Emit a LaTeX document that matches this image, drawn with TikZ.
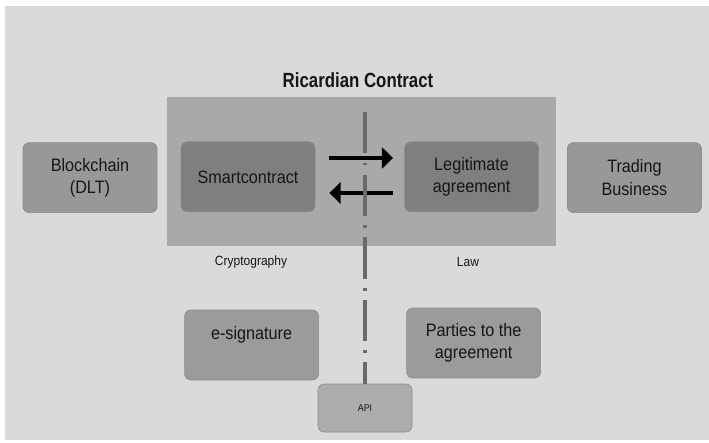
\documentclass[tikz,border=0pt]{standalone}
\usepackage{fontspec}
\setmainfont{Liberation Sans}[FakeStretch=0.9]
\newfontfamily\titlefont{Liberation Sans}[FakeStretch=0.82]
\usetikzlibrary{positioning, arrows.meta}

\definecolor{backdrop}{HTML}{DADADA}
\definecolor{panelgray}{HTML}{A9A9A9}
\definecolor{boxgray}{HTML}{989898}
\definecolor{boxdark}{HTML}{7F7F7F}
\definecolor{apigray}{HTML}{ADADAD}
\definecolor{linegray}{HTML}{6A6A6A}
\definecolor{ink}{HTML}{161616}

\begin{document}
\begin{tikzpicture}[
    box/.style={rectangle, draw=black!45, line width=0.5pt, rounded corners=4.5pt,
                minimum width=3.35cm, minimum height=1.75cm, fill=boxgray,
                text=ink, align=center, font=\fontsize{12.8}{16}\selectfont},
    darkbox/.style={box, fill=boxdark},
    side/.style={font=\fontsize{9.5}{11}\selectfont, text=ink},
    arrow/.style={-{Triangle[length=8pt, width=15pt]}, line width=2.8pt},
    divider/.style={line width=2.2pt, draw=linegray,
                    dash pattern=on 29.5pt off 6.5pt on 2pt off 6.5pt}
]

    \useasboundingbox (0,0) rectangle (17.725,-11.05);
    \fill[backdrop] (0.125,-0.15) rectangle (17.725,-11.0);

    % Ricardian contract panel
    \node[rectangle, fill=panelgray, minimum width=9.725cm, minimum height=3.725cm] (panel) at (9.0375,-4.2875) {};
    \node[font=\titlefont\bfseries\fontsize{14.6}{16}\selectfont, text=ink] (title) at (8.95,-2.0) {Ricardian Contract};

    % Top row
    \node[box] (chain) at (2.25,-4.44) {Blockchain\\(DLT)};
    \node[darkbox] (smart) at (6.2,-4.42) {Smartcontract};
    \node[darkbox] (legit) at (11.79,-4.42) {Legitimate\\agreement};
    \node[box] (trade) at (15.86,-4.44) {Trading\\Business};

    % Column labels
    \node[side] (crypto) at (6.275,-6.55) {Cryptography};
    \node[side] (law) at (11.7,-6.55) {Law};

    % Bottom row
    \node[box, fill=boxgray!97!white] (esig) at (6.29,-8.625) {};
    \node[text=ink, font=\fontsize{12.8}{16}\selectfont] (esiglabel) at (6.29,-8.38) {e-signature};
    \node[box, fill=boxgray!97!white] (parties) at (11.84,-8.575) {Parties to the\\agreement};
    \node[box, fill=apigray, minimum width=2.35cm, minimum height=1.2cm,
          font=\fontsize{7}{8}\selectfont] (api) at (9.125,-10.2) {API};

    % Arrows
    \draw[arrow, shorten <=0.35cm, shorten >=0.28cm] ([yshift=0.47cm]smart.east) -- ([yshift=0.47cm]legit.west);
    \draw[arrow, shorten <=0.28cm, shorten >=0.35cm] ([yshift=-0.405cm]legit.west) -- ([yshift=-0.405cm]smart.east);

    % Divider
    \coordinate (divtop) at (9.125,-2.8);
    \draw[divider] (divtop) -- (api.north);

\end{tikzpicture}
\end{document}
